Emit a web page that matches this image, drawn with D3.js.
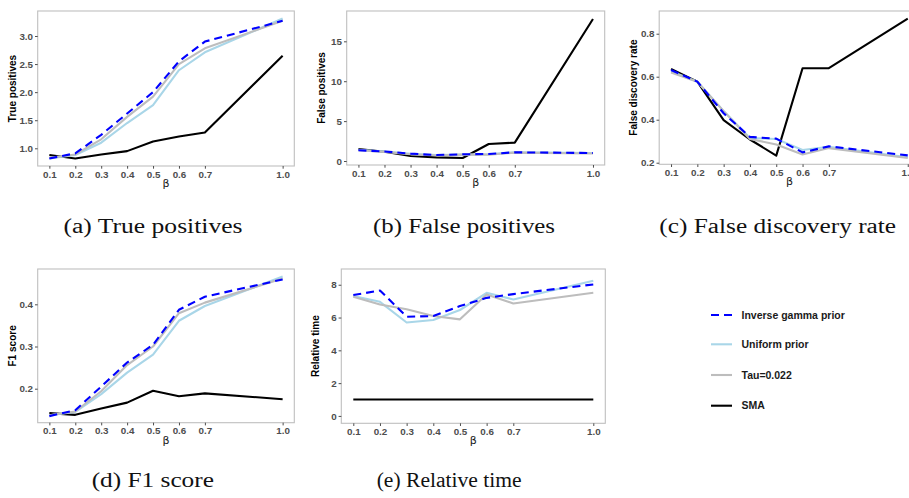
<!DOCTYPE html>
<html><head><meta charset="utf-8">
<script src="https://cdn.jsdelivr.net/npm/d3@7"></script>
<style>body{margin:0;background:#fff}svg{display:block}</style>
</head><body>
<svg id="c" width="909" height="498"></svg>
<script>
const beta = [0.1, 0.2, 0.3, 0.4, 0.5, 0.6, 0.7, 1.0];
const xTicks = [0.1, 0.2, 0.3, 0.4, 0.5, 0.6, 0.7, 1.0];
const seriesNames = ["Inverse gamma prior", "Uniform prior", "Tau=0.022", "SMA"];

const tpInvGamma = [0.82, 0.91, 1.24, 1.62, 2.00, 2.55, 2.90, 3.27];
const tpUniform  = [0.82, 0.88, 1.10, 1.45, 1.77, 2.39, 2.71, 3.31];
const tpTau      = [0.83, 0.89, 1.16, 1.56, 1.92, 2.50, 2.78, 3.27];
const tpSMA      = [0.88, 0.82, 0.89, 0.95, 1.12, 1.21, 1.28, 2.65];

const fpInvGamma = [1.34, 1.20, 0.92, 0.75, 0.84, 0.88, 1.09, 1.00];
const fpUniform  = [1.40, 1.20, 0.90, 0.75, 0.80, 0.85, 1.10, 1.00];
const fpTau      = [1.35, 1.15, 0.85, 0.70, 0.80, 0.80, 1.05, 0.95];
const fpSMA      = [1.50, 1.17, 0.63, 0.46, 0.38, 2.13, 2.30, 17.8];

const fdrInvGamma = [0.631, 0.577, 0.430, 0.320, 0.312, 0.248, 0.276, 0.234];
const fdrUniform  = [0.625, 0.577, 0.440, 0.315, 0.310, 0.259, 0.274, 0.225];
const fdrTau      = [0.620, 0.577, 0.440, 0.310, 0.285, 0.238, 0.268, 0.222];
const fdrSMA      = [0.636, 0.577, 0.398, 0.308, 0.233, 0.639, 0.640, 0.870];

const f1InvGamma = [0.135, 0.149, 0.205, 0.262, 0.304, 0.387, 0.418, 0.459];
const f1Uniform  = [0.137, 0.145, 0.187, 0.238, 0.281, 0.361, 0.396, 0.466];
const f1Tau      = [0.137, 0.146, 0.194, 0.256, 0.300, 0.379, 0.404, 0.461];
const f1SMA      = [0.142, 0.138, 0.153, 0.167, 0.195, 0.182, 0.189, 0.175];

const timeInvGamma = [7.37, 7.65, 6.05, 6.09, 6.70, 7.20, 7.43, 8.02];
const timeUniform  = [7.31, 6.96, 5.70, 5.85, 6.46, 7.51, 7.10, 8.24];
const timeTau      = [7.27, 6.80, 6.50, 6.09, 5.89, 7.41, 6.86, 7.51];
const timeSMA      = [1, 1, 1, 1, 1, 1, 1, 1];

const tpTicks = [1.0, 1.5, 2.0, 2.5, 3.0];
const fpTicks = [0, 5, 10, 15];
const fdrTicks = [0.2, 0.4, 0.6, 0.8];
const f1Ticks = [0.2, 0.3, 0.4];
const timeTicks = [0, 2, 4, 6, 8];

const styles = [
  {color: "#0000ff", dash: "8,5"},
  {color: "#a9d6e8", dash: null},
  {color: "#bdbdbd", dash: null},
  {color: "#000000", dash: null}
];
const drawOrder = [3, 1, 2, 0];

const panels = [
  {title: "True positives", caption: "(a) True positives", series: [tpInvGamma, tpUniform, tpTau, tpSMA],
   yTicks: tpTicks, yFmt: ".1f", yDom: [0.685, 3.445], left: 37.7, right: 294.3, top: 11, bottom: 166,
   capX: 153, capY: 233, capW: 179},
  {title: "False positives", caption: "(b) False positives", series: [fpInvGamma, fpUniform, fpTau, fpSMA],
   yTicks: fpTicks, yFmt: "d", yDom: [-0.5, 18.8], left: 346.7, right: 604.7, top: 11, bottom: 165,
   capX: 464, capY: 233, capW: 182},
  {title: "False discovery rate", caption: "(c) False discovery rate", series: [fdrInvGamma, fdrUniform, fdrTau, fdrSMA],
   yTicks: fdrTicks, yFmt: ".1f", yDom: [0.1926, 0.9056], left: 659.2, right: 919.6, top: 11, bottom: 164.3,
   capX: 777.7, capY: 233, capW: 236.7},
  {title: "F1 score", caption: "(d) F1 score", series: [f1InvGamma, f1Uniform, f1Tau, f1SMA],
   yTicks: f1Ticks, yFmt: ".1f", yDom: [0.1194, 0.4837], left: 37.7, right: 294.3, top: 269, bottom: 422.7,
   capX: 152.8, capY: 487, capW: 122.3},
  {title: "Relative time", caption: "(e) Relative time", series: [timeInvGamma, timeUniform, timeTau, timeSMA],
   yTicks: timeTicks, yFmt: "d", yDom: [-0.45, 8.96], left: 341.3, right: 605.3, top: 269, bottom: 423.3,
   capX: 449.2, capY: 487, capW: 145}
];

const svg = d3.select("#c");
const sans = "'Liberation Sans', Arial, Helvetica, sans-serif";
const serif = "'Liberation Serif', 'DejaVu Serif', serif";

panels.forEach(p => {
  const x = d3.scaleLinear().domain([0.055, 1.045]).range([p.left, p.right]);
  const y = d3.scaleLinear().domain(p.yDom).range([p.bottom, p.top]);
  const g = svg.append("g");

  g.append("rect").attr("x", p.left).attr("y", p.top)
    .attr("width", p.right - p.left).attr("height", p.bottom - p.top)
    .attr("fill", "#fff").attr("stroke", "#bfbfbf").attr("stroke-width", 1.1);

  const xAxis = d3.axisBottom(x).tickValues(xTicks).tickFormat(d3.format(".1f")).tickSize(2.7).tickPadding(2);
  const gx = g.append("g").attr("transform", `translate(0,${p.bottom})`).call(xAxis);
  const yAxis = d3.axisLeft(y).tickValues(p.yTicks).tickFormat(d3.format(p.yFmt)).tickSize(2.7).tickPadding(2);
  const gy = g.append("g").attr("transform", `translate(${p.left},0)`).call(yAxis);
  [gx, gy].forEach(a => {
    a.select(".domain").remove();
    a.selectAll(".tick line").attr("stroke", "#4d4d4d").attr("stroke-width", 1);
    a.selectAll(".tick text").attr("fill", "#4d4d4d").attr("font-family", sans)
      .attr("font-weight", "bold").attr("font-size", 9.8);
  });

  g.append("text").attr("x", x(0.55)).attr("y", p.bottom + 21)
    .attr("text-anchor", "middle").attr("font-family", "'DejaVu Sans', sans-serif").attr("font-size", 11)
    .attr("fill", "#1a1a1a").text("β");
  g.append("text")
    .attr("transform", `translate(${p.left - 22},${(p.top + p.bottom) / 2}) rotate(-90)`)
    .attr("text-anchor", "middle").attr("font-family", sans).attr("font-weight", "bold")
    .attr("font-size", 10).attr("fill", "#000").text(p.title);

  const line = d3.line().x((d, i) => x(beta[i])).y(d => y(d));
  drawOrder.forEach(si => {
    g.append("path").datum(p.series[si]).attr("d", line)
      .attr("fill", "none").attr("stroke", styles[si].color).attr("stroke-width", 2.1)
      .attr("stroke-dasharray", styles[si].dash).attr("stroke-linejoin", "round");
  });

  svg.append("text").attr("x", p.capX).attr("y", p.capY).attr("text-anchor", "middle")
    .attr("font-family", serif).attr("font-size", 20).attr("fill", "#111")
    .attr("textLength", p.capW).attr("lengthAdjust", "spacingAndGlyphs").text(p.caption);
});

const legY = [315, 344.3, 375, 405.7];
const leg = svg.append("g");
seriesNames.forEach((name, i) => {
  leg.append("line").attr("x1", 711).attr("x2", 732).attr("y1", legY[i]).attr("y2", legY[i])
    .attr("stroke", styles[i].color).attr("stroke-width", 2.1).attr("stroke-dasharray", styles[i].dash);
  leg.append("text").attr("x", 741.5).attr("y", legY[i]).attr("dy", "0.35em")
    .attr("font-family", sans).attr("font-weight", "bold").attr("font-size", 10.5)
    .attr("fill", "#1a1a1a").text(name);
});
</script>
</body></html>
